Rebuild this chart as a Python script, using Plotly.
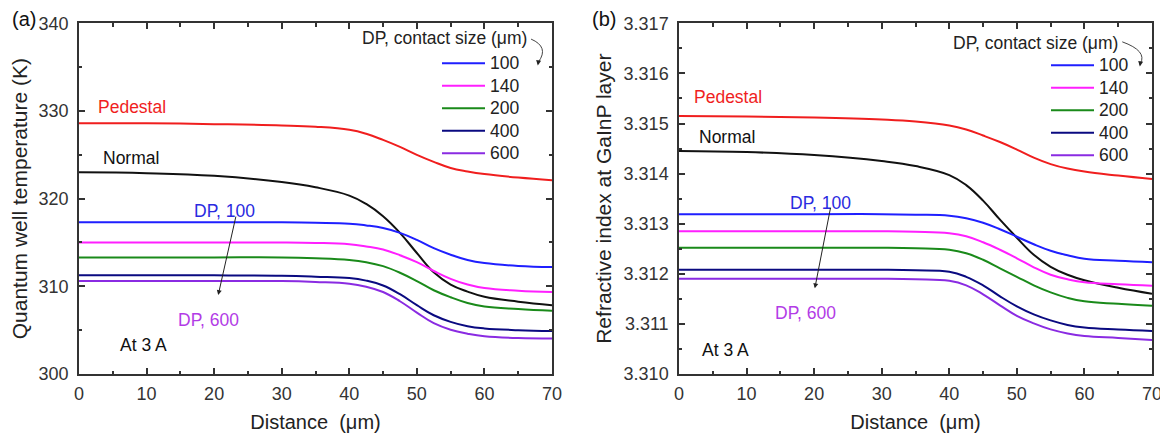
import plotly.graph_objects as go

# ---------------- data ----------------
distance = [0, 10, 20, 30, 35, 40, 42.5, 45, 47.5, 50, 52.5, 55, 57.5, 60, 65, 70]
sizes = ["100", "140", "200", "400", "600"]

# (a) quantum well temperature (K)
temp_pedestal = [328.6, 328.6, 328.5, 328.35, 328.2, 327.85, 327.4, 326.7, 325.9, 325.0, 324.2, 323.5, 323.1, 322.8, 322.4, 322.1]
temp_normal = [323.0, 322.9, 322.6, 321.9, 321.3, 320.35, 319.4, 318.0, 316.1, 313.8, 311.6, 310.2, 309.4, 308.8, 308.25, 307.85]
temp_dp100 = [317.3, 317.3, 317.3, 317.3, 317.25, 317.15, 316.95, 316.65, 316.1, 315.3, 314.35, 313.6, 313.0, 312.65, 312.33, 312.2]
temp_dp140 = [315.0, 315.0, 315.0, 315.0, 314.95, 314.8, 314.55, 314.2, 313.55, 312.75, 311.75, 310.85, 310.2, 309.8, 309.5, 309.35]
temp_dp200 = [313.3, 313.3, 313.3, 313.3, 313.2, 313.0, 312.75, 312.3, 311.55, 310.6, 309.55, 308.75, 308.1, 307.7, 307.4, 307.2]
temp_dp400 = [311.25, 311.25, 311.25, 311.2, 311.1, 310.95, 310.65, 310.1, 309.1, 307.85, 306.7, 305.95, 305.45, 305.2, 305.0, 304.9]
temp_dp600 = [310.6, 310.6, 310.6, 310.6, 310.5, 310.3, 309.95, 309.35, 308.3, 307.0, 305.8, 305.05, 304.6, 304.3, 304.1, 304.05]

# (b) refractive index at GaInP layer
n_pedestal = [3.31515, 3.31514, 3.31512, 3.31508, 3.31504, 3.31496, 3.31488, 3.31476, 3.31463, 3.31448, 3.31432, 3.31419, 3.31410, 3.31404, 3.31396, 3.31389]
n_normal = [3.31445, 3.31443, 3.31437, 3.31425, 3.31415, 3.31397, 3.31377, 3.31346, 3.31308, 3.31272, 3.31238, 3.31214, 3.31198, 3.31187, 3.31172, 3.31160]
n_dp100 = [3.31319, 3.31319, 3.31319, 3.31319, 3.31318, 3.31316, 3.31311, 3.31302, 3.31289, 3.31274, 3.31259, 3.31246, 3.31237, 3.31230, 3.31226, 3.31223]
n_dp140 = [3.31285, 3.31285, 3.31285, 3.31285, 3.31284, 3.31281, 3.31275, 3.31263, 3.31248, 3.31231, 3.31213, 3.31198, 3.31189, 3.31183, 3.31179, 3.31176]
n_dp200 = [3.31252, 3.31252, 3.31252, 3.31252, 3.31251, 3.31248, 3.31241, 3.31228, 3.31211, 3.31194, 3.31177, 3.31163, 3.31152, 3.31145, 3.31140, 3.31136]
n_dp400 = [3.31208, 3.31208, 3.31208, 3.31208, 3.31207, 3.31204, 3.31194, 3.31177, 3.31155, 3.31135, 3.31119, 3.31107, 3.31098, 3.31093, 3.31089, 3.31086]
n_dp600 = [3.31190, 3.31190, 3.31190, 3.31190, 3.31189, 3.31186, 3.31177, 3.31159, 3.31137, 3.31116, 3.31101, 3.31089, 3.31081, 3.31076, 3.31072, 3.31068]

temp_dp = [temp_dp100, temp_dp140, temp_dp200, temp_dp400, temp_dp600]
n_dp = [n_dp100, n_dp140, n_dp200, n_dp400, n_dp600]

# ---------------- style ----------------
FONT = "Liberation Sans, Arial, sans-serif"
RED = "#f01e1e"
BLACK = "#111111"
dp_colors = ["#1f1fff", "#ff1fff", "#1a8a1a", "#0a0a80", "#8a2be2"]
TXT_600 = "#b23be6"
AXC = "#333333"
LW = 2
SM = 1.2

fig = go.Figure()

def add_panel(xa, ya, ped, nor, dps, legend_name):
    fig.add_trace(go.Scatter(x=distance, y=ped, mode="lines", line=dict(color=RED, width=LW, shape="spline", smoothing=SM),
                             xaxis=xa, yaxis=ya, showlegend=False, name="Pedestal"))
    fig.add_trace(go.Scatter(x=distance, y=nor, mode="lines", line=dict(color=BLACK, width=LW, shape="spline", smoothing=SM),
                             xaxis=xa, yaxis=ya, showlegend=False, name="Normal"))
    for s, vals, c in zip(sizes, dps, dp_colors):
        fig.add_trace(go.Scatter(x=distance, y=vals, mode="lines",
                                 line=dict(color=c, width=LW, shape="spline", smoothing=SM),
                                 xaxis=xa, yaxis=ya, legend=legend_name,
                                 name='<span style="font-size:17.5px">' + s + '</span>'))

add_panel("x", "y", temp_pedestal, temp_normal, temp_dp, "legend")
add_panel("x2", "y2", n_pedestal, n_normal, n_dp, "legend2")

# page body has an 8px margin: figure is sized/placed to compensate
W, H = 1160, 433
ydom = [1 - 366 / H, 1 - 15.3 / H]

def xaxis(dom, anchor):
    return dict(domain=dom, anchor=anchor, range=[0, 70], dtick=10, tick0=0, automargin=False,
                showline=True, linecolor=AXC, linewidth=1.5, mirror="ticks",
                ticks="inside", ticklen=6, tickwidth=1.5, tickcolor=AXC,
                minor=dict(dtick=5, ticks="inside", ticklen=3.5, tickwidth=1.5, tickcolor=AXC),
                showgrid=False, zeroline=False,
                tickfont=dict(family=FONT, size=18, color="#333333"), ticklabelstandoff=3,
                title=dict(text="Distance  (\u03bcm)", font=dict(family=FONT, size=20, color="#222222"), standoff=12))

def yaxis(rng, dt, mdt, fmt, title, anchor):
    return dict(domain=ydom, anchor=anchor, range=rng, dtick=dt, tick0=rng[0], tickformat=fmt, automargin=False,
                showline=True, linecolor=AXC, linewidth=1.5, mirror="ticks",
                ticks="inside", ticklen=6, tickwidth=1.5, tickcolor=AXC,
                minor=dict(dtick=mdt, ticks="inside", ticklen=3.5, tickwidth=1.5, tickcolor=AXC),
                showgrid=False, zeroline=False,
                tickfont=dict(family=FONT, size=18, color="#333333"), ticklabelstandoff=5,
                title=dict(text=title, font=dict(family=FONT, size=21, color="#222222"), standoff=6))

fig.update_layout(
    width=W, height=H, margin=dict(l=0, r=0, t=0, b=0),
    paper_bgcolor="white", plot_bgcolor="white",
    font=dict(family=FONT, color="#222222"),
    xaxis=xaxis([71 / W, 544 / W], "y"),
    yaxis=yaxis([300, 340], 10, 5, "d", "Quantum well temperature (K)", "x"),
    xaxis2=xaxis([671 / W, 1144 / W], "y2"),
    yaxis2=yaxis([3.310, 3.317], 0.001, 0.0005, ".3f", "Refractive index at GaInP layer", "x2"),
    legend=dict(x=429 / W, y=1 - 39 / H, xanchor="left", yanchor="top", bgcolor="rgba(0,0,0,0)",
                font=dict(family=FONT, size=15, color="#222222"), itemwidth=43, tracegroupgap=0),
    legend2=dict(x=1038 / W, y=1 - 41 / H, xanchor="left", yanchor="top", bgcolor="rgba(0,0,0,0)",
                 font=dict(family=FONT, size=15, color="#222222"), itemwidth=43, tracegroupgap=0),
)

def txt(x, y, t, color, xa, ya, xanchor="left", size=17.5):
    fig.add_annotation(x=x, y=y, xref=xa, yref=ya, text=t, showarrow=False, xanchor=xanchor,
                       yanchor="middle", font=dict(family=FONT, size=size, color=color))

# panel (a) labels
txt(2.5, 330.45, "Pedestal", RED, "x", "y")
txt(3.3, 324.6, "Normal", BLACK, "x", "y")
txt(21.5, 318.6, "DP, 100", "#2a2ae0", "x", "y", "center")
txt(19.2, 306.2, "DP, 600", TXT_600, "x", "y", "center")
txt(5.8, 303.3, "At 3 A", BLACK, "x", "y")
txt(66.6, 338.3, "DP, contact size (\u03bcm)", "#222222", "x", "y", "right")

# panel (b) labels
txt(1.9, 3.31553, "Pedestal", RED, "x2", "y2")
txt(2.7, 3.31473, "Normal", BLACK, "x2", "y2")
txt(20.9, 3.31341, "DP, 100", "#2a2ae0", "x2", "y2", "center")
txt(18.7, 3.31122, "DP, 600", TXT_600, "x2", "y2", "center")
txt(3.1, 3.31048, "At 3 A", BLACK, "x2", "y2")
txt(65.2, 3.31660, "DP, contact size (\u03bcm)", "#222222", "x2", "y2", "right")

# panel tags
fig.add_annotation(x=2 / W, y=1 - 11 / H, xref="paper", yref="paper", text="(a)", showarrow=False,
                   xanchor="left", yanchor="middle", font=dict(family=FONT, size=20, color="#111111"))
fig.add_annotation(x=582 / W, y=1 - 11 / H, xref="paper", yref="paper", text="(b)", showarrow=False,
                   xanchor="left", yanchor="middle", font=dict(family=FONT, size=20, color="#111111"))

# arrows DP,100 -> DP,600
fig.add_annotation(x=20.6, y=309.0, xref="x", yref="y", ax=18, ay=-80, showarrow=True,
                   arrowhead=2, arrowsize=1, arrowwidth=1, arrowcolor="#222222", text="")
fig.add_annotation(x=20.1, y=3.31171, xref="x2", yref="y2", ax=16, ay=-82, showarrow=True,
                   arrowhead=2, arrowsize=1, arrowwidth=1, arrowcolor="#222222", text="")

# curved arrows from legend titles
fig.add_shape(type="path", xref="x", yref="y", path="M 66.9 338.2 Q 69.6 337.3 68.0 335.6",
              line=dict(color="#444444", width=1))
fig.add_annotation(x=67.9, y=335.2, xref="x", yref="y", ax=1, ay=-6, showarrow=True,
                   arrowhead=2, arrowsize=1, arrowwidth=1, arrowcolor="#222222", text="")
fig.add_shape(type="path", xref="x2", yref="y2", path="M 65.6 3.31663 Q 69.3 3.31645 68.3 3.31620",
              line=dict(color="#444444", width=1))
fig.add_annotation(x=68.2, y=3.31614, xref="x2", yref="y2", ax=1, ay=-6, showarrow=True,
                   arrowhead=2, arrowsize=1, arrowwidth=1, arrowcolor="#222222", text="")

fig.write_html("out.html")
